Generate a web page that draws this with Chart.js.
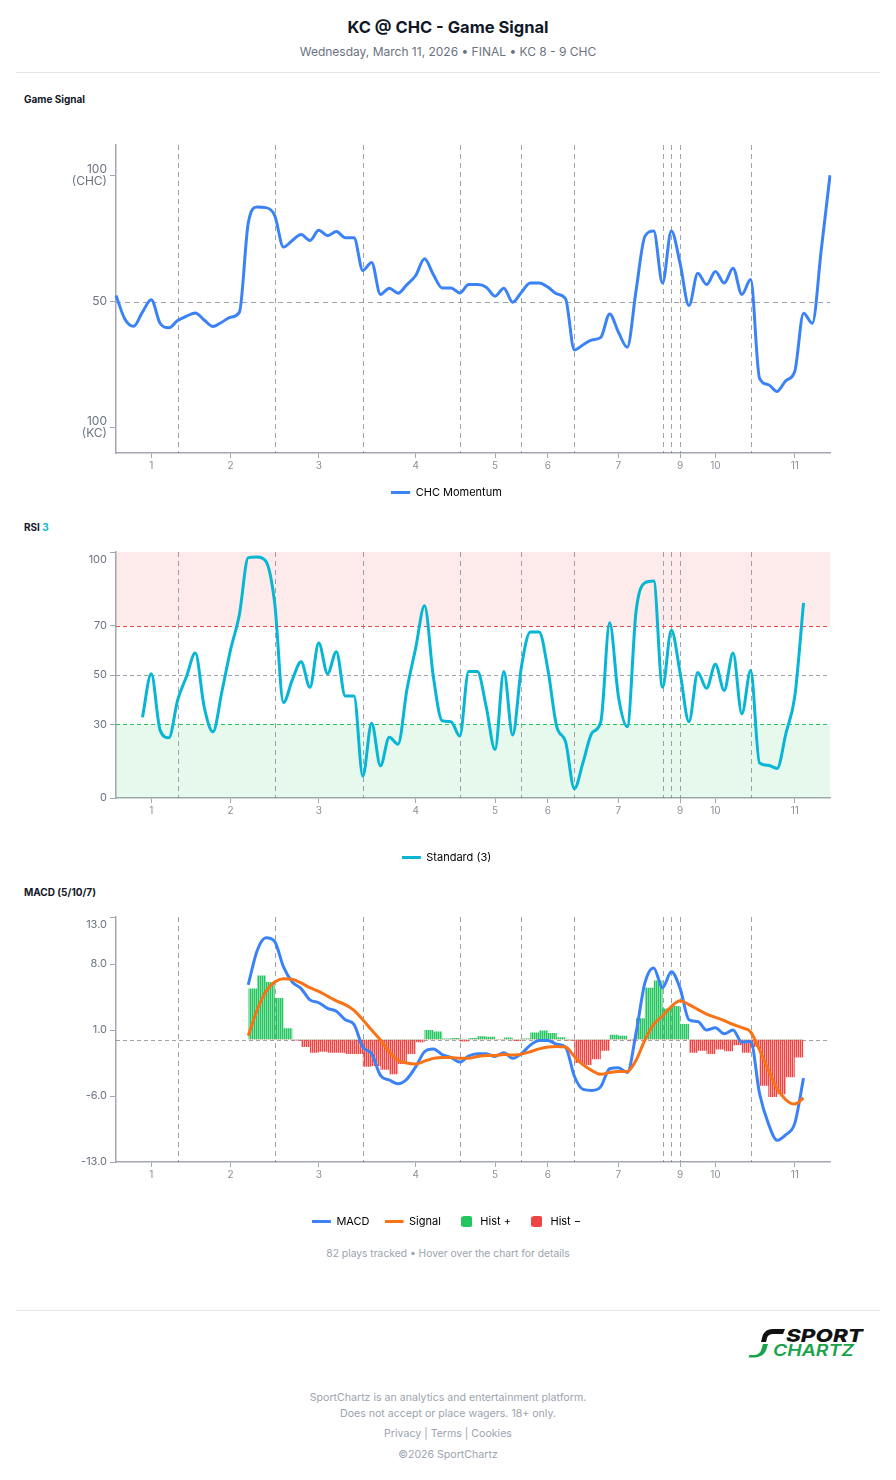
<!DOCTYPE html>
<html>
<head>
<meta charset="utf-8">
<title>KC @ CHC - Game Signal</title>
<script src="https://cdn.jsdelivr.net/npm/chart.js@4.4.1/dist/chart.umd.min.js"></script>
<style>
  body { margin: 0; background: #fff; font-family: Inter, "Noto Sans", sans-serif; color: #111827; }
  .page { position: relative; width: 896px; height: 1480px; overflow: hidden; }
  .abs { position: absolute; }
  .center { left: 0; width: 896px; text-align: center; }
  .title { top: 17px; font-size: 16.5px; line-height: 20px; font-weight: 700; }
  .sub { top: 45px; font-size: 12px; line-height: 14px; color: #6b7280; }
  .rule { left: 16px; width: 864px; height: 1px; background: #e5e7eb; }
  .sec { left: 24px; font-size: 10px; line-height: 12px; font-weight: 700; color: #111827; }
  .sec span { color: #06b6d4; }
  .note { top: 1247px; font-size: 10.3px; line-height: 12px; color: #9ca3af; }
  .foot { font-size: 10.6px; line-height: 12px; color: #9ca3af; }
  .box { left: 24px; width: 848px; }
</style>
</head>
<body>
<div class="page">
  <div class="abs center title">KC @ CHC - Game Signal</div>
  <div class="abs center sub">Wednesday, March 11, 2026 • FINAL • KC 8 - 9 CHC</div>
  <div class="abs rule" style="top:72px"></div>

  <div class="abs sec" style="top:93px">Game Signal</div>
  <div class="abs box" style="top:110px;height:398px"><canvas id="signalChart"></canvas></div>

  <div class="abs sec" style="top:521px">RSI <span>3</span></div>
  <div class="abs box" style="top:528px;height:345px"><canvas id="rsiChart"></canvas></div>

  <div class="abs sec" style="top:886px">MACD (5/10/7)</div>
  <div class="abs box" style="top:893px;height:344px"><canvas id="macdChart"></canvas></div>

  <div class="abs center note">82 plays tracked • Hover over the chart for details</div>
  <div class="abs rule" style="top:1310px"></div>

  <svg class="abs" style="left:748px;top:1327px" width="116" height="31" viewBox="0 0 116 31">
    <path d="M37 2 H25 C18 2 15 6 14 11 L13 15 H18 L19 11 C20 8 22 7 25 7 H35 Z" fill="#111"/>
    <path d="M15 17 L13.5 22 C12.5 26 9.5 28 5 28 H1.5 L0.5 30.5 H6 C13 30.5 17 27 18.5 22 L20 17 Z" fill="#16a34a"/>
    <text x="38" y="15" font-family="Inter" font-weight="800" font-style="italic" font-size="18" textLength="77" lengthAdjust="spacingAndGlyphs" fill="#111">SPORT</text>
    <text x="25" y="28.5" font-family="Inter" font-weight="600" font-style="italic" font-size="16.5" textLength="81" lengthAdjust="spacingAndGlyphs" fill="#16a34a">CHARTZ</text>
  </svg>

  <div class="abs center foot" style="top:1392px">SportChartz is an analytics and entertainment platform.</div>
  <div class="abs center foot" style="top:1408px">Does not accept or place wagers. 18+ only.</div>
  <div class="abs center foot" style="top:1428px">Privacy | Terms | Cookies</div>
  <div class="abs center foot" style="top:1449px">©2026 SportChartz</div>
</div>

<script>
// plays on the x axis, innings labelled at their middle play
const plays = Array.from({ length: 82 }, (_, i) => String(i + 1));
const inningTickIdx = [4, 13, 23, 34, 43, 49, 57, 64, 68, 77];
const inningTickLabels = ['1', '2', '3', '4', '5', '6', '7', '9', '10', '11'];
const inningBreaks = [7, 18, 28, 39, 46, 52, 62, 63, 64, 72];

// CHC win signal, 100 = CHC, 0 = KC
const chcMomentum = [
  52.4, 43.1, 40.2, 45.8, 50.7, 41.4, 39.6, 42.5, 44.2, 45.5,
  42.7, 40.1, 41.8, 43.8, 45.8, 81.0, 87.4, 87.2, 84.1, 71.6,
  74.2, 76.5, 74.2, 78.2, 76.1, 77.7, 75.3, 75.3, 62.3, 65.5,
  52.8, 55.3, 53.3, 56.7, 60.3, 66.9, 60.7, 55.4, 55.4, 53.4,
  56.7, 56.7, 55.7, 52.1, 55.3, 49.7, 53.7, 57.3, 57.3, 55.7,
  53.0, 51.1, 30.8, 32.9, 34.8, 35.8, 45.1, 37.8, 31.9, 54.4,
  75.8, 77.9, 57.3, 77.9, 65.0, 48.4, 61.2, 56.7, 61.9, 57.3,
  63.2, 52.8, 58.7, 19.7, 17.1, 14.4, 18.7, 22.3, 45.4, 41.4,
  70.2, 100
];

const rsi3 = [
  null, null, null, 32.8, 50.5, 27.6, 24.5, 39.9, 49.4, 58.9,
  37.1, 26.9, 43.0, 60.3, 74.6, 97.7, 98.0, 96.3, 79.3, 38.8,
  48.0, 55.4, 45.0, 63.0, 50.5, 59.5, 41.5, 41.5, 8.9, 30.4,
  13.1, 24.7, 21.9, 44.0, 61.0, 78.2, 49.4, 31.4, 31.0, 25.2,
  51.4, 51.4, 37.1, 19.7, 51.4, 25.6, 53.5, 67.5, 67.5, 52.1,
  29.0, 22.9, 3.8, 14.7, 26.5, 31.0, 71.2, 41.2, 29.0, 75.9,
  87.5, 88.2, 45.0, 68.2, 50.8, 31.0, 51.0, 44.6, 54.4, 43.7,
  58.9, 34.2, 51.8, 14.3, 13.3, 12.0, 26.3, 41.2, 79.3, null,
  null, null
];

const macdLine = [
  null, null, null, null, null, null, null, null, null, null,
  null, null, null, null, null, 5.8, 9.4, 10.8, 10.4, 7.7,
  6.1, 5.4, 4.2, 3.9, 3.3, 3.0, 2.1, 1.6, -0.8, -1.5,
  -3.8, -4.3, -4.7, -4.2, -2.9, -1.3, -1.0, -1.6, -1.9, -2.4,
  -1.75, -1.5, -1.5, -1.8, -1.4, -2.0, -1.5, -0.6, -0.1, -0.1,
  -0.5, -0.8, -3.9, -5.3, -5.4, -5.0, -3.1, -3.0, -3.5, 0.7,
  6.0, 7.6, 5.5, 7.2, 5.4, 2.1, 1.9, 1.0, 1.25, 0.6,
  1.0, -0.3, -0.2, -5.7, -8.9, -10.7, -10.1, -8.9, -4.1, null,
  null, null
];

const signalLine = [
  null, null, null, null, null, null, null, null, null, null,
  null, null, null, null, null, 0.4, 3.1, 5.1, 6.1, 6.45,
  6.4, 6.0, 5.5, 5.1, 4.6, 4.1, 3.7, 3.1, 2.1, 1.0,
  -0.05, -1.3, -2.2, -2.5, -2.6, -2.3, -2.0, -1.9, -1.9, -2.0,
  -2.0, -1.8, -1.7, -1.7, -1.6, -1.65, -1.55, -1.3, -1.0, -0.8,
  -0.75, -0.8, -1.8, -2.7, -3.3, -3.7, -3.5, -3.4, -3.4, -2.2,
  -0.05, 1.6, 2.5, 3.5, 4.1, 3.7, 3.2, 2.7, 2.35, 2.0,
  1.6, 1.25, 0.8, -1.1, -3.2, -5.2, -6.4, -6.85, -6.2, null,
  null, null
];

const macdHist = [
  null, null, null, null, null, null, null, null, null, null,
  null, null, null, null, null, 5.4, 6.8, 6.1, 4.4, 1.2,
  -0.1, -0.8, -1.4, -1.3, -1.4, -1.4, -1.55, -1.55, -2.9, -2.8,
  -3.2, -3.7, -2.6, -1.55, -0.3, 1.0, 0.85, 0.1, 0.15, -0.2,
  0.15, 0.35, 0.3, 0.05, 0.2, -0.15, 0.1, 0.75, 0.95, 0.7,
  0.25, -0.1, -2.5, -2.7, -2.1, -1.2, 0.5, 0.4, -0.1, 2.25,
  5.5, 6.25, 3.3, 3.55, 1.65, -1.4, -1.2, -1.55, -1.05, -1.25,
  -0.6, -1.4, -0.8, -4.9, -6.1, -5.8, -4.0, -1.9, 2.1, null,
  null, null
];

const signalTicks = [0, 50, 100];
const signalTickText = [['100', '(KC)'], '50', ['100', '(CHC)']];
const rsiTicks = [0, 30, 50, 70, 100];
const macdTicks = [-13, -6, 1, 8, 13];

const AXIS = '#a3a8b0';
const GUIDE = 'rgba(107,114,128,0.65)';
const BLUE = '#3b82f6', CYAN = '#06b6d4', ORANGE = '#f97316', GREEN = '#22c55e', RED = '#ef4444';

Chart.defaults.font.family = "Inter, 'Noto Sans', sans-serif";
Chart.defaults.animation = false;

function stripes(solid, light) {
  const c = document.createElement('canvas');
  c.width = 2; c.height = 2;
  const g = c.getContext('2d');
  g.fillStyle = solid; g.fillRect(0, 0, 1, 2);
  g.fillStyle = light; g.fillRect(1, 0, 1, 2);
  return g.createPattern(c, 'repeat');
}

// legend swatches: a short thick line, or a small rounded square
function legendLine(color) {
  const c = document.createElement('canvas');
  c.width = 22; c.height = 3;
  const g = c.getContext('2d');
  g.fillStyle = color; g.fillRect(0, 0, 19, 3);
  return c;
}

function legendBox(color) {
  const c = document.createElement('canvas');
  c.width = 11; c.height = 11;
  const g = c.getContext('2d');
  g.fillStyle = color;
  g.beginPath(); g.roundRect(0, 0, 11, 11, 2.5); g.fill();
  return c;
}

function item(text, swatch, color, i) {
  return { text, pointStyle: swatch, strokeStyle: color, fillStyle: color, lineWidth: 0, hidden: false, datasetIndex: i };
}

function legend(items) {
  return {
    position: 'bottom',
    labels: { usePointStyle: true, pointStyleWidth: 16, padding: 18, color: '#6b7280', font: { size: 11 }, generateLabels: () => items }
  };
}

function xAxis(h) {
  return {
    grid: { drawOnChartArea: false, tickLength: 5, color: AXIS },
    border: { color: AXIS, width: 1.5 },
    ticks: {
      autoSkip: false, maxRotation: 0, padding: 2, color: '#8a909a', font: { size: 10 },
      callback: v => inningTickLabels[inningTickIdx.indexOf(v)]
    },
    afterBuildTicks: s => { s.ticks = inningTickIdx.map(v => ({ value: v })); },
    afterFit: s => { s.height = h; }
  };
}

function yAxis(min, max, ticks, fmt, size, lh) {
  return {
    min, max,
    grid: { drawOnChartArea: false, tickLength: 6, color: AXIS },
    border: { color: AXIS, width: 1.5 },
    ticks: { color: '#6b7280', font: { size, lineHeight: lh }, padding: 3, callback: fmt },
    afterBuildTicks: s => { s.ticks = ticks.map(v => ({ value: v })); },
    afterFit: s => { s.width = 50; }
  };
}

// top label sits a little below its tick
const dropTop = (ticks, fmt) => v => v === ticks[ticks.length - 1] ? ['', fmt(v)] : fmt(v);

// bands, threshold lines and inning breaks behind the series
const guides = {
  id: 'guides',
  beforeDatasetsDraw(chart, args, opts) {
    const { ctx, chartArea: a, scales: { x, y } } = chart;
    ctx.save();
    (opts.bands || []).forEach(b => {
      const top = y.getPixelForValue(b.to), bot = y.getPixelForValue(b.from);
      ctx.fillStyle = b.color;
      ctx.fillRect(a.left, top, a.right - a.left, bot - top);
    });
    ctx.lineWidth = 1;
    ctx.setLineDash([5, 4]);
    ctx.strokeStyle = GUIDE;
    inningBreaks.forEach(i => {
      const px = Math.round(x.getPixelForValue(i)) + 0.5;
      ctx.beginPath(); ctx.moveTo(px, a.top); ctx.lineTo(px, a.bottom); ctx.stroke();
    });
    (opts.hlines || []).forEach(h => {
      const py = Math.round(y.getPixelForValue(h.v)) + 0.5;
      ctx.strokeStyle = h.color;
      ctx.setLineDash(h.dash);
      ctx.beginPath(); ctx.moveTo(a.left, py); ctx.lineTo(a.right, py); ctx.stroke();
    });
    ctx.restore();
  }
};

new Chart(document.getElementById('signalChart'), {
  type: 'line',
  data: {
    labels: plays,
    datasets: [{
      label: 'CHC Momentum', data: chcMomentum,
      borderColor: BLUE, borderWidth: 3, pointRadius: 0, cubicInterpolationMode: 'monotone'
    }]
  },
  options: {
    responsive: true, maintainAspectRatio: false,
    layout: { padding: { top: 35, right: 42, left: 42, bottom: 0 } },
    scales: {
      x: xAxis(16),
      y: yAxis(-10, 112, signalTicks, v => signalTickText[signalTicks.indexOf(v)], 12, 1)
    },
    plugins: {
      legend: legend([item('CHC Momentum', legendLine(BLUE), BLUE, 0)]),
      tooltip: { enabled: false },
      guides: { hlines: [{ v: 50, color: GUIDE, dash: [5, 4] }] }
    }
  },
  plugins: [guides]
});

new Chart(document.getElementById('rsiChart'), {
  type: 'line',
  data: {
    labels: plays,
    datasets: [{
      label: 'Standard (3)', data: rsi3,
      borderColor: CYAN, borderWidth: 3, pointRadius: 0, cubicInterpolationMode: 'monotone'
    }]
  },
  options: {
    responsive: true, maintainAspectRatio: false,
    layout: { padding: { top: 24, right: 42, left: 42, bottom: 0 } },
    scales: {
      x: xAxis(36),
      y: yAxis(0, 100, rsiTicks, dropTop(rsiTicks, v => String(v)), 11, 1.45)
    },
    plugins: {
      legend: legend([item('Standard (3)', legendLine(CYAN), CYAN, 0)]),
      tooltip: { enabled: false },
      guides: {
        bands: [
          { from: 70, to: 100, color: 'rgba(239,68,68,0.11)' },
          { from: 0, to: 30, color: 'rgba(34,197,94,0.11)' }
        ],
        hlines: [
          { v: 70, color: RED, dash: [4, 3] },
          { v: 50, color: GUIDE, dash: [4, 3] },
          { v: 30, color: GREEN, dash: [4, 3] }
        ]
      }
    }
  },
  plugins: [guides]
});

new Chart(document.getElementById('macdChart'), {
  type: 'line',
  data: {
    labels: plays,
    datasets: [
      {
        label: 'MACD', data: macdLine, order: 1,
        borderColor: BLUE, borderWidth: 3, pointRadius: 0, cubicInterpolationMode: 'monotone'
      },
      {
        label: 'Signal', data: signalLine, order: 0,
        borderColor: ORANGE, borderWidth: 3, pointRadius: 0, cubicInterpolationMode: 'monotone'
      },
      {
        label: 'Hist', data: macdHist, order: 2,
        stepped: 'before', borderWidth: 0, pointRadius: 0,
        fill: {
          target: 'origin',
          above: stripes(GREEN, 'rgba(34,197,94,0.55)'),
          below: stripes(RED, 'rgba(239,68,68,0.45)')
        }
      }
    ]
  },
  options: {
    responsive: true, maintainAspectRatio: false,
    layout: { padding: { top: 24, right: 42, left: 42, bottom: 0 } },
    scales: {
      x: xAxis(36),
      y: yAxis(-13, 13, macdTicks, dropTop(macdTicks, v => v.toFixed(1)), 11, 1.45)
    },
    plugins: {
      legend: legend([
        item('MACD', legendLine(BLUE), BLUE, 0),
        item('Signal', legendLine(ORANGE), ORANGE, 1),
        item('Hist +', legendBox(GREEN), GREEN, 2),
        item('Hist \u2212', legendBox(RED), RED, 2)
      ]),
      tooltip: { enabled: false },
      guides: { hlines: [{ v: 0, color: GUIDE, dash: [4, 3] }] }
    }
  },
  plugins: [guides]
});
</script>
</body>
</html>
